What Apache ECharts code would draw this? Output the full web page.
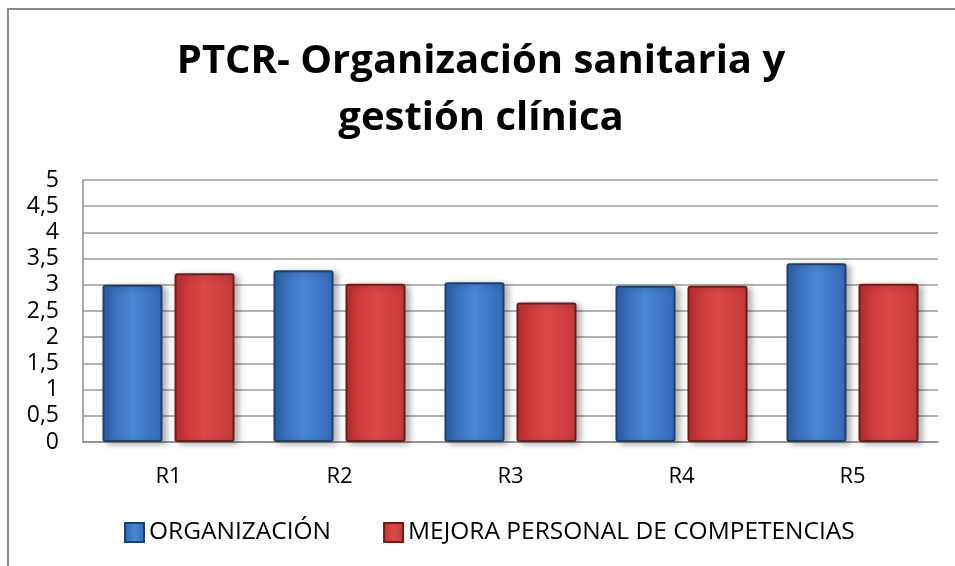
<!DOCTYPE html>
<html>
<head>
<meta charset="utf-8">
<script src="https://cdn.jsdelivr.net/npm/echarts@6/dist/echarts.min.js"></script>
<style>
  html, body { margin: 0; padding: 0; background: #fff; }
  #chart { width: 955px; height: 566px; }
</style>
</head>
<body>
<div id="chart"></div>
<script>
// chart data
const categories = ["R1", "R2", "R3", "R4", "R5"];
const organizacion = [3.0, 3.28, 3.05, 2.98, 3.41];
const mejora = [3.22, 3.02, 2.66, 2.98, 3.02];
const seriesNames = ["ORGANIZACIÓN", "MEJORA PERSONAL DE COMPETENCIAS"];
const titleText = "PTCR- Organización sanitaria y\ngestión clínica";

const font = "'Open Sans', 'DejaVu Sans', sans-serif";

function grad(c1, c2, c3) {
  return new echarts.graphic.LinearGradient(0, 0, 1, 0, [
    { offset: 0, color: c1 },
    { offset: 0.5, color: c2 },
    { offset: 1, color: c3 }
  ]);
}

const blue = grad("#2f62ad", "#4a88d6", "#3468b6");
const red = grad("#c22f2f", "#dd4949", "#c63838");

let chart = echarts.init(document.getElementById("chart"), null, { renderer: "canvas" });

chart.setOption({
  animation: false,
  backgroundColor: "#fff",
  graphic: [{
    type: "rect",
    shape: { x: 8, y: 9, width: 1000, height: 1000 },
    style: { fill: "none", stroke: "#8a8a8a", lineWidth: 2 },
    z: -1
  }],
  title: {
    text: titleText,
    left: 476,
    textAlign: "center",
    top: 28,
    textStyle: {
      fontFamily: font,
      fontWeight: "bold",
      fontSize: 40,
      lineHeight: 57,
      color: "#000"
    }
  },
  legend: {
    data: seriesNames,
    bottom: 16,
    left: 119,
    itemWidth: 19,
    itemHeight: 19,
    itemGap: 52,
    icon: "rect",
    textStyle: { fontFamily: font, fontSize: 24.5, color: "#000" }
  },
  grid: { left: 83, right: 17, top: 180, bottom: 124 },
  xAxis: {
    type: "category",
    data: categories,
    axisLine: { lineStyle: { color: "#8c8c8c", width: 1.5 } },
    axisTick: { show: false },
    axisLabel: { fontFamily: font, fontSize: 22, color: "#000", margin: 24 }
  },
  yAxis: {
    type: "value",
    min: 0,
    max: 5,
    interval: 0.5,
    axisLine: { show: true, lineStyle: { color: "#8c8c8c", width: 1.5 } },
    axisTick: { show: false },
    splitLine: { lineStyle: { color: "#9a9a9a", width: 1.5 } },
    axisLabel: {
      fontFamily: font,
      fontSize: 23,
      color: "#000",
      margin: 24,
      formatter: (v) => String(v).replace(".", ",")
    }
  },
  series: [
    {
      name: seriesNames[0],
      type: "bar",
      data: organizacion,
      barWidth: 60,
      barGap: "20%",
      itemStyle: {
        color: blue,
        borderColor: "#1d3f6e",
        borderWidth: 2,
        borderRadius: 2,
        shadowColor: "rgba(0,0,0,0.3)",
        shadowBlur: 6,
        shadowOffsetX: 4,
        shadowOffsetY: 2
      }
    },
    {
      name: seriesNames[1],
      type: "bar",
      data: mejora,
      barWidth: 60,
      itemStyle: {
        color: red,
        borderColor: "#6e1b1b",
        borderWidth: 2,
        borderRadius: 2,
        shadowColor: "rgba(0,0,0,0.3)",
        shadowBlur: 6,
        shadowOffsetX: 4,
        shadowOffsetY: 2
      }
    }
  ]
});
</script>
</body>
</html>
